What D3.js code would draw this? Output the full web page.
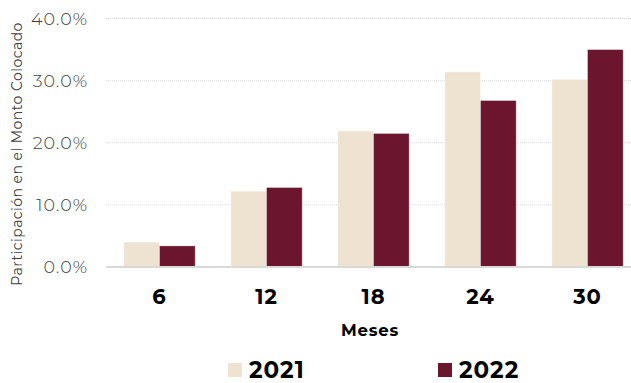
<!DOCTYPE html>
<html>
<head>
<meta charset="utf-8">
<script src="https://cdn.jsdelivr.net/npm/d3@7"></script>
<style>
  html, body { margin: 0; padding: 0; background: #fff; }
  svg { display: block; }
</style>
</head>
<body>
<svg id="chart" width="631" height="383"></svg>
<script>
// Plazos (meses) y participación por año
const categories = ["6", "12", "18", "24", "30"];
const seriesNames = ["2021", "2022"];
const values2021 = [0.040, 0.122, 0.219, 0.314, 0.302];
const values2022 = [0.034, 0.128, 0.215, 0.268, 0.350];
const yTicks = [0, 0.1, 0.2, 0.3, 0.4];
const colors = ["#EEE3D1", "#6B162E"];

const font = "Montserrat, 'Open Sans', 'Noto Sans', sans-serif";
const svg = d3.select("#chart");
const W = 631;

const x = d3.scaleBand().domain(categories).range([106, 641]).paddingInner(0.333).paddingOuter(0.1665);
const x1 = d3.scaleBand().domain(seriesNames).range([0, x.bandwidth()]);
const y = d3.scaleLinear().domain([0, 0.4]).range([267, 18.5]);

// Líneas de cuadrícula
svg.append("g")
  .selectAll("line")
  .data(yTicks.filter(d => d > 0))
  .join("line")
  .attr("x1", 106).attr("x2", W)
  .attr("y1", d => y(d)).attr("y2", d => y(d))
  .attr("stroke", "#d9d9d9")
  .attr("stroke-width", 1)
  .attr("stroke-dasharray", "1,1");

// Eje Y
const yAxis = svg.append("g")
  .attr("transform", "translate(96,0)")
  .call(d3.axisLeft(y).tickValues(yTicks).tickFormat(d3.format(".1%")).tickSize(0).tickPadding(8));
yAxis.select(".domain").remove();
yAxis.selectAll("text")
  .attr("font-family", font)
  .attr("font-size", 17.5)
  .attr("font-weight", 300)
  .attr("letter-spacing", 1)
  .attr("fill", "#404040");

// Barras
const data = categories.map((c, i) => ({ cat: c, vals: [values2021[i], values2022[i]] }));
const groups = svg.append("g")
  .selectAll("g")
  .data(data)
  .join("g")
  .attr("transform", d => `translate(${x(d.cat)},0)`);
groups.selectAll("rect")
  .data(d => d.vals.map((v, j) => ({ key: seriesNames[j], v, j })))
  .join("rect")
  .attr("x", d => x1(d.key))
  .attr("y", d => y(d.v))
  .attr("width", x1.bandwidth())
  .attr("height", d => y(0) - y(d.v))
  .attr("fill", d => colors[d.j])
  .attr("stroke", "rgba(255,255,255,0.45)")
  .attr("stroke-width", 0.8);

// Línea base
svg.append("line")
  .attr("x1", 106).attr("x2", W)
  .attr("y1", y(0)).attr("y2", y(0))
  .attr("stroke", "#d9d9d9")
  .attr("stroke-width", 2);

// Eje X
const xAxis = svg.append("g")
  .attr("transform", `translate(0,${y(0)})`)
  .call(d3.axisBottom(x).tickSize(0).tickPadding(22));
xAxis.select(".domain").remove();
xAxis.selectAll("text")
  .attr("font-family", font)
  .attr("font-size", 21)
  .attr("font-weight", 700)
  .attr("letter-spacing", 1)
  .attr("fill", "#000");

// Títulos de ejes
svg.append("text")
  .attr("x", 370).attr("y", 336)
  .attr("text-anchor", "middle")
  .attr("font-family", font)
  .attr("font-size", 16.5)
  .attr("font-weight", 700)
  .attr("letter-spacing", 0.8)
  .attr("fill", "#000")
  .text("Meses");

svg.append("text")
  .attr("transform", "translate(22,154) rotate(-90)")
  .attr("text-anchor", "middle")
  .attr("font-family", font)
  .attr("font-size", 14)
  .attr("letter-spacing", 0.45)
  .attr("fill", "#404040")
  .text("Participación en el Monto Colocado");

// Leyenda
const legendX = [228, 438];
const legend = svg.append("g")
  .selectAll("g")
  .data(seriesNames)
  .join("g")
  .attr("transform", (d, i) => `translate(${legendX[i]},363)`);
legend.append("rect")
  .attr("width", 14).attr("height", 14)
  .attr("fill", (d, i) => colors[i]);
legend.append("text")
  .attr("x", 21).attr("y", 14.5)
  .attr("font-family", font)
  .attr("font-size", 23)
  .attr("font-weight", 700)
  .attr("letter-spacing", 1)
  .attr("fill", "#000")
  .text(d => d);
</script>
</body>
</html>
